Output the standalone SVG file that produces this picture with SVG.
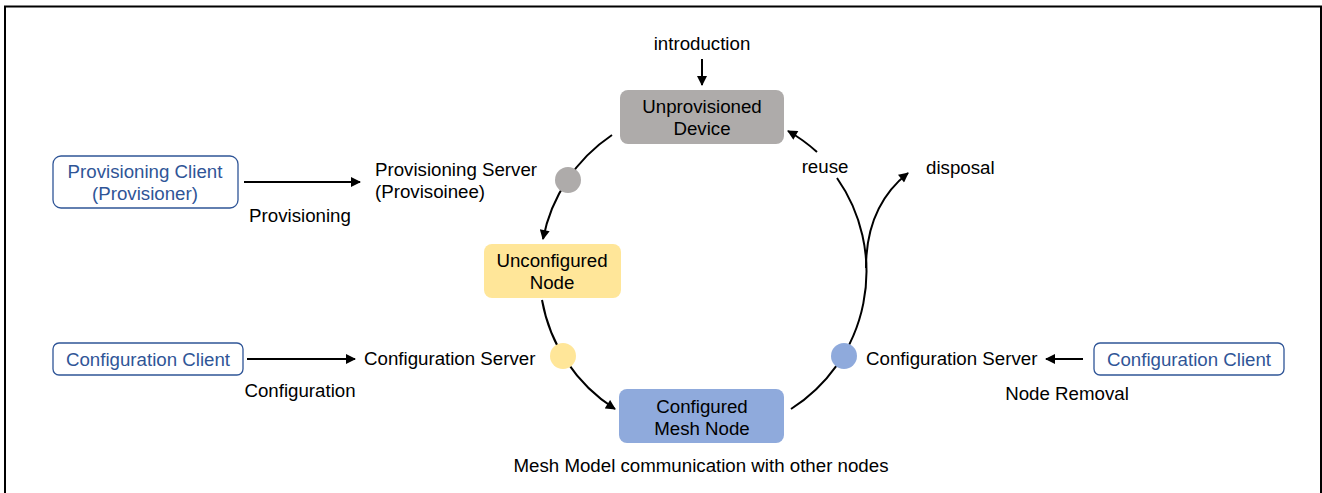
<svg xmlns="http://www.w3.org/2000/svg" width="1322" height="493" viewBox="0 0 1322 493">
<style>
text{font-family:"Liberation Sans",Arial,sans-serif;font-size:18.7px;fill:#000}
.c{text-anchor:middle}
.blue{fill:#2F5597}
.edge{fill:none;stroke:#000;stroke-width:2}
.client{fill:#fff;stroke:#2F5597;stroke-width:1.3}
</style>
<defs>
<marker id="ah" viewBox="0 0 10 10" refX="9" refY="5" markerWidth="11" markerHeight="10" markerUnits="userSpaceOnUse" orient="auto">
<path d="M0,0 L10,5 L0,10 z" fill="#000"/>
</marker>
</defs>
<rect x="5" y="6.5" width="1316" height="500" fill="#fff" stroke="#000" stroke-width="2"/>

<g id="connectors">
<path class="edge" d="M702,59 L702,85" marker-end="url(#ah)"/>
<path class="edge" d="M612,135 A163,163 0 0 0 543,239" marker-end="url(#ah)"/>
<path class="edge" d="M542,300 A163,163 0 0 0 615,409" marker-end="url(#ah)"/>
<path class="edge" d="M791,409 A163,163 0 0 0 837,178"/>
<path class="edge" d="M817,152 A163,163 0 0 0 788,131" marker-end="url(#ah)"/>
<path class="edge" d="M866,268 C866,222 884,192 908,173" marker-end="url(#ah)"/>
<path class="edge" d="M244,182 L360,182" marker-end="url(#ah)"/>
<path class="edge" d="M247,359 L355,359" marker-end="url(#ah)"/>
<path class="edge" d="M1083,359 L1046,359" marker-end="url(#ah)"/>
</g>

<g id="unprovisioned-device">
<rect x="620" y="90" width="164" height="54" rx="8" fill="#AEABAA"/>
<text class="c" x="702" y="113">Unprovisioned</text>
<text class="c" x="702" y="135">Device</text>
</g>

<g id="unconfigured-node">
<rect x="484" y="244" width="137" height="54" rx="8" fill="#FFE699"/>
<text class="c" x="552" y="267">Unconfigured</text>
<text class="c" x="552" y="289">Node</text>
</g>

<g id="configured-mesh-node">
<rect x="619" y="389" width="165" height="54" rx="8" fill="#8FAADC"/>
<text class="c" x="702" y="413">Configured</text>
<text class="c" x="702" y="435">Mesh Node</text>
</g>

<g id="provisioning-server-dot"><circle cx="568" cy="180" r="13" fill="#AEABAA"/></g>
<g id="configuration-server-dot-left"><circle cx="563" cy="356" r="13" fill="#FFE699"/></g>
<g id="configuration-server-dot-right"><circle cx="844" cy="356" r="13" fill="#8FAADC"/></g>

<g id="provisioning-client">
<rect class="client" x="53" y="156" width="185" height="52" rx="8"/>
<text class="c blue" x="145" y="178">Provisioning Client</text>
<text class="c blue" x="145" y="200">(Provisioner)</text>
</g>

<g id="configuration-client-left">
<rect class="client" x="53" y="343" width="190" height="32" rx="6"/>
<text class="c blue" x="148" y="366">Configuration Client</text>
</g>

<g id="configuration-client-right">
<rect class="client" x="1094" y="343" width="190" height="32" rx="6"/>
<text class="c blue" x="1189" y="366">Configuration Client</text>
</g>

<g id="labels">
<text class="c" x="702" y="50">introduction</text>
<text x="375" y="176">Provisioning Server</text>
<text x="375" y="198">(Provisoinee)</text>
<text class="c" x="300" y="222">Provisioning</text>
<text x="364" y="365">Configuration Server</text>
<text class="c" x="300" y="397">Configuration</text>
<text x="866" y="365">Configuration Server</text>
<text class="c" x="1067" y="400">Node Removal</text>
<text class="c" x="825" y="173">reuse</text>
<text x="926" y="174">disposal</text>
<text class="c" x="701" y="472">Mesh Model communication with other nodes</text>
</g>
</svg>
